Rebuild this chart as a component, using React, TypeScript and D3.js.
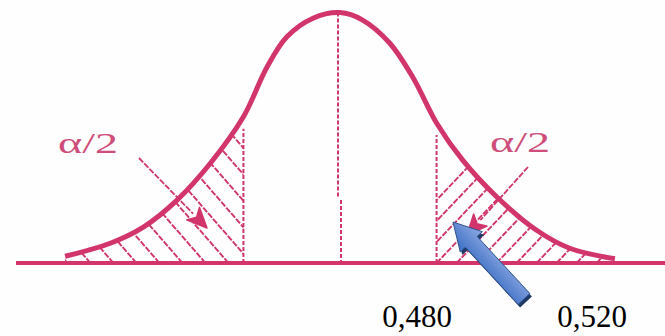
import React from "react";
import * as d3 from "d3";

// ---- data ----
// standardised positions (z) and curve heights (density) sampled along the bell curve
const curveZ = [-3.16, -2.64, -2.26, -1.87, -1.49, -1.11, -0.84, -0.61, -0.31, 0, 0.26, 0.57, 0.84, 1.11, 1.41, 1.8, 2.26, 2.64, 3.16];
const curveDensity = [0.006, 0.027, 0.053, 0.097, 0.156, 0.231, 0.311, 0.36, 0.39, 0.399, 0.387, 0.35, 0.294, 0.221, 0.161, 0.102, 0.048, 0.019, 0.002];
const criticalZ = [-1.11, 1.11];
const tailLabels = ["α/2", "α/2"];
const boundValues = [0.48, 0.52];
const boundLabels = ["0,480", "0,520"];

const W = 665;
const H = 336;
const PINK = "#d1356b";

export default function App() {
  const x = d3.scaleLinear().domain([-3.5, 3.5]).range([35.5, 644.5]);
  const y = d3.scaleLinear().domain([0, 0.4]).range([260, 12]);
  const pScale = d3.scaleLinear().domain(boundValues).range([417, 592]);
  const baseY = y(0) + 3;

  const pts: [number, number][] = curveZ.map((z, i) => [z, curveDensity[i]]);
  const curveGen = d3.curveCatmullRom.alpha(0.5);
  const line = d3.line<[number, number]>().x((d) => x(d[0])).y((d) => y(d[1])).curve(curveGen);
  const area = d3
    .area<[number, number]>()
    .x((d) => x(d[0]))
    .y0(baseY)
    .y1((d) => y(d[1]))
    .curve(curveGen);

  const densityAt = (z: number) => {
    const i = curveZ.indexOf(z);
    return i >= 0 ? curveDensity[i] : 0;
  };

  const xl = x(criticalZ[0]);
  const xr = x(criticalZ[1]);

  // hatch lines
  const leftHatch: JSX.Element[] = [];
  for (let b = xl + 100; b > 40; b -= 23) {
    const s = 1.15;
    leftHatch.push(
      <line key={"lh" + b} x1={b} y1={baseY} x2={b - 260 / s} y2={baseY - 260} />
    );
  }
  const rightHatch: JSX.Element[] = [];
  for (let b = xr - 60; b < 660; b += 20) {
    const s = 1.05;
    rightHatch.push(
      <line key={"rh" + b} x1={b} y1={baseY} x2={b + 260 / s} y2={baseY - 260} />
    );
  }

  // blue block arrow
  const T = [524, 299];
  const P = [453, 222];
  const dx = P[0] - T[0];
  const dy = P[1] - T[1];
  const L = Math.hypot(dx, dy);
  const u = [dx / L, dy / L];
  const n = [-u[1], u[0]];
  const headLen = 27;
  const headHalf = 15;
  const shaftHalf = 8;
  const at = (t: number, o: number) => [T[0] + u[0] * t + n[0] * o, T[1] + u[1] * t + n[1] * o];
  const arrowPts = [
    at(0, shaftHalf),
    at(L - headLen, shaftHalf),
    at(L - headLen, headHalf),
    P,
    at(L - headLen, -headHalf),
    at(L - headLen, -shaftHalf),
    at(0, -shaftHalf),
  ];
  const arrowPath = "M" + arrowPts.map((p) => p.join(",")).join("L") + "Z";

  // small pointer arrows from the α/2 labels
  const pointer = (x1: number, y1: number, x2: number, y2: number, key: string) => {
    const a = Math.atan2(y2 - y1, x2 - x1);
    const hl = 20;
    const hw = 9;
    const bx = x2 - Math.cos(a) * hl;
    const by = y2 - Math.sin(a) * hl;
    const px = -Math.sin(a);
    const py = Math.cos(a);
    return (
      <g key={key}>
        <line x1={x1} y1={y1} x2={bx} y2={by} stroke={PINK} strokeWidth={1.8} strokeDasharray="6 1.5" />
        <path
          d={`M${x2},${y2}L${bx + px * hw},${by + py * hw}L${bx + Math.cos(a) * 5},${by + Math.sin(a) * 5}L${bx - px * hw},${by - py * hw}Z`}
          fill={PINK}
          stroke={PINK}
          strokeWidth={1.5}
          strokeLinejoin="round"
        />
      </g>
    );
  };

  return (
    <svg
      width={W}
      height={H}
      style={{ position: "absolute", left: 0, top: 0, background: "#fdfefd" }}
    >
      <defs>
        <clipPath id="under">
          <path d={area(pts) || ""} />
        </clipPath>
        <clipPath id="leftTail">
          <rect x={0} y={0} width={xl} height={baseY} />
        </clipPath>
        <clipPath id="rightTail">
          <rect x={xr} y={0} width={W - xr} height={baseY} />
        </clipPath>
        <linearGradient id="blue" x1="0" y1="1" x2="1" y2="0">
          <stop offset="0" stopColor="#2c5193" />
          <stop offset="0.4" stopColor="#4675c8" />
          <stop offset="0.62" stopColor="#88a6e0" />
          <stop offset="1" stopColor="#3a66b8" />
        </linearGradient>
      </defs>

      {/* hatching */}
      <g clipPath="url(#leftTail)">
        <g clipPath="url(#under)" stroke={PINK} strokeWidth={1.9} strokeDasharray="6 1.5">
          {leftHatch}
        </g>
      </g>
      <g clipPath="url(#rightTail)">
        <g clipPath="url(#under)" stroke={PINK} strokeWidth={1.9} strokeDasharray="6 1.5">
          {rightHatch}
        </g>
      </g>

      {/* critical value lines */}
      {criticalZ.map((z) => (
        <line
          key={"c" + z}
          x1={x(z)}
          x2={x(z)}
          y1={baseY}
          y2={y(densityAt(z)) + 12}
          stroke={PINK}
          strokeWidth={2}
          strokeDasharray="4 2"
        />
      ))}

      {/* centre line */}
      <line x1={x(0) - 2} x2={x(0) - 2} y1={y(densityAt(0))} y2={198} stroke={PINK} strokeWidth={2} strokeDasharray="4 2" />
      <line x1={x(0) + 1} x2={x(0) + 1} y1={200} y2={baseY} stroke={PINK} strokeWidth={2} strokeDasharray="4 2" />

      {/* baseline */}
      <line x1={16} x2={W} y1={baseY} y2={baseY} stroke={PINK} strokeWidth={4} />

      {/* bell curve */}
      <path d={line(pts) || ""} fill="none" stroke={PINK} strokeWidth={5} />

      {/* α/2 labels */}
      <text x={58} y={153} fontFamily="'Liberation Serif', serif" fontSize={30} fill="#cf4d7a" textLength={60} lengthAdjust="spacingAndGlyphs">
        {tailLabels[0]}
      </text>
      <text x={490} y={152} fontFamily="'Liberation Serif', serif" fontSize={30} fill="#cf4d7a" textLength={60} lengthAdjust="spacingAndGlyphs">
        {tailLabels[1]}
      </text>

      {pointer(139, 158, 207, 228, "pl")}
      {pointer(528, 167, 467, 235, "pr")}

      {/* blue arrow */}
      <path d={arrowPath} fill="#1f3864" transform="translate(2,3)" />
      <path d={arrowPath} fill="url(#blue)" stroke="#2f528f" strokeWidth={1} />

      {/* bound labels */}
      {boundLabels.map((t, i) => (
        <text
          key={t}
          x={pScale(boundValues[i])}
          y={327}
          textAnchor="middle"
          fontFamily="'Liberation Serif', 'Times New Roman', serif"
          fontSize={31}
          fill="#000"
        >
          {t}
        </text>
      ))}
    </svg>
  );
}
